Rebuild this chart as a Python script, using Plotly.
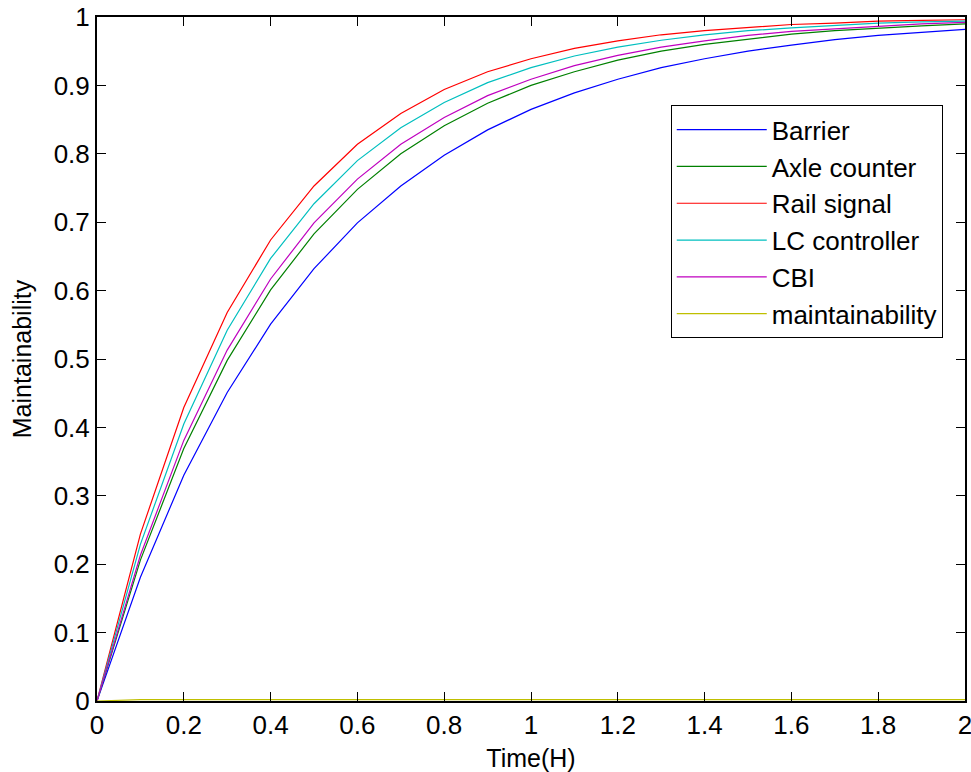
import plotly.graph_objects as go

time_h = [0.0, 0.1, 0.2, 0.3, 0.4, 0.5, 0.6, 0.7, 0.8, 0.9, 1.0,
          1.1, 1.2, 1.3, 1.4, 1.5, 1.6, 1.7, 1.8, 1.9, 2.0]

barrier = [0.0, 0.181, 0.330, 0.451, 0.551, 0.632, 0.699, 0.753, 0.798, 0.835, 0.865,
           0.889, 0.909, 0.926, 0.939, 0.950, 0.959, 0.967, 0.973, 0.978, 0.982]
axle_counter = [0.0, 0.206, 0.369, 0.498, 0.601, 0.683, 0.748, 0.800, 0.841, 0.874, 0.900,
                0.920, 0.937, 0.950, 0.960, 0.968, 0.975, 0.980, 0.984, 0.987, 0.990]
rail_signal = [0.0, 0.244, 0.429, 0.568, 0.674, 0.753, 0.814, 0.859, 0.894, 0.920, 0.939,
               0.954, 0.965, 0.974, 0.980, 0.985, 0.989, 0.991, 0.994, 0.995, 0.996]
lc_controller = [0.0, 0.229, 0.405, 0.542, 0.647, 0.727, 0.790, 0.838, 0.875, 0.904, 0.926,
                 0.943, 0.956, 0.966, 0.974, 0.980, 0.984, 0.988, 0.991, 0.993, 0.994]
cbi = [0.0, 0.213, 0.381, 0.513, 0.617, 0.699, 0.763, 0.814, 0.853, 0.885, 0.909,
       0.929, 0.944, 0.956, 0.965, 0.973, 0.979, 0.983, 0.987, 0.990, 0.992]
maintainability = [0.0, 0.002, 0.002, 0.002, 0.002, 0.002, 0.002, 0.002, 0.002, 0.002, 0.002,
                   0.002, 0.002, 0.002, 0.002, 0.002, 0.002, 0.002, 0.002, 0.002, 0.002]

series_names = ["Barrier", "Axle counter", "Rail signal", "LC controller", "CBI", "maintainability"]
series_values = [barrier, axle_counter, rail_signal, lc_controller, cbi, maintainability]
series_colors = ["#0000FF", "#008000", "#FF0000", "#00BFBF", "#BF00BF", "#BFBF00"]

x_ticks = [0, 0.2, 0.4, 0.6, 0.8, 1.0, 1.2, 1.4, 1.6, 1.8, 2.0]
x_tick_labels = ["0", "0.2", "0.4", "0.6", "0.8", "1", "1.2", "1.4", "1.6", "1.8", "2"]
y_ticks = [0, 0.1, 0.2, 0.3, 0.4, 0.5, 0.6, 0.7, 0.8, 0.9, 1.0]
y_tick_labels = ["0", "0.1", "0.2", "0.3", "0.4", "0.5", "0.6", "0.7", "0.8", "0.9", "1"]

FONT = "Liberation Sans, Arial, sans-serif"
FS = 26
FS_TITLE = 25

fig = go.Figure()
for i, (name, vals, col) in enumerate(zip(series_names, series_values, series_colors)):
    fig.add_trace(go.Scatter(
        x=time_h, y=vals, mode="lines", name=name,
        line=dict(color=col, width=1.2),
        legendgroup=f"g{i}",
    ))

fig.update_layout(
    width=971, height=772,
    margin=dict(l=97, r=6, t=17, b=71),
    paper_bgcolor="white", plot_bgcolor="white",
    font=dict(family=FONT, size=FS, color="black"),
    showlegend=True,
    legend=dict(
        x=0.661, y=0.871, xanchor="left", yanchor="top",
        bgcolor="white", bordercolor="black", borderwidth=1,
        font=dict(family=FONT, size=FS, color="black"),
        tracegroupgap=0,
        itemwidth=90,
    ),
    xaxis=dict(
        range=[0, 2], tickvals=x_ticks, ticktext=x_tick_labels,
        ticks="inside", ticklen=9, tickcolor="black", tickwidth=1,
        showline=True, linecolor="black", linewidth=2, mirror="allticks",
        showgrid=False, zeroline=False, automargin=False,
        ticklabeloverflow="allow",
        title=dict(text="Time(H)", font=dict(family=FONT, size=FS_TITLE)),
        tickfont=dict(family=FONT, size=FS),
    ),
    yaxis=dict(
        range=[0, 1], tickvals=y_ticks, ticktext=y_tick_labels,
        ticks="inside", ticklen=9, tickcolor="black", tickwidth=1,
        showline=True, linecolor="black", linewidth=2, mirror="allticks",
        showgrid=False, zeroline=False, automargin=False,
        ticklabeloverflow="allow",
        title=dict(text="Maintainability", font=dict(family=FONT, size=FS_TITLE)),
        tickfont=dict(family=FONT, size=FS),
    ),
)

fig.write_html("out.html", config={"displayModeBar": False},
               post_script="document.body.style.margin='0';")
